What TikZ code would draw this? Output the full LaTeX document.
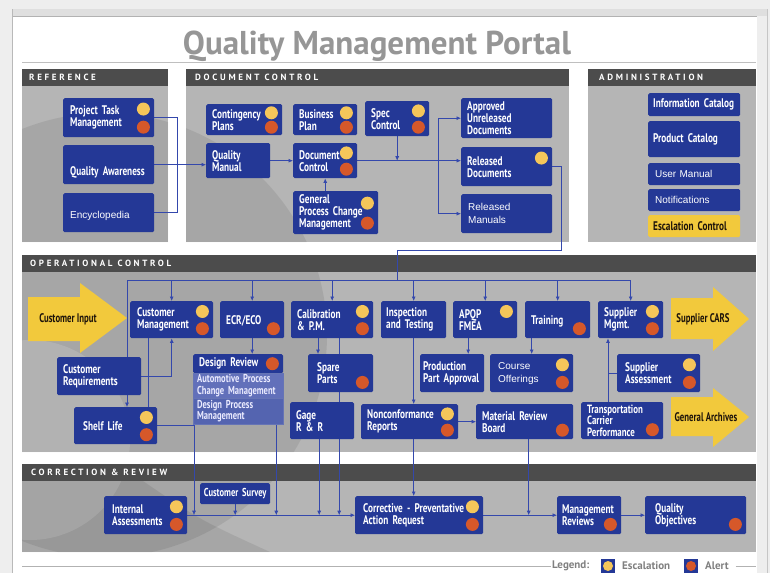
\documentclass[tikz,border=0pt]{standalone}
\usepackage{fontspec}
\setmainfont{PT Sans}
\newfontfamily\boxfont[FakeStretch=0.74]{PT Sans}
\newfontfamily\tagfont[FakeStretch=0.7]{PT Sans}
\newfontfamily\arialfont{Liberation Sans}
\newfontfamily\headfont[LetterSpace=30]{PT Sans}
\usetikzlibrary{arrows.meta,calc}

\definecolor{qblue}{RGB}{36,56,150}
\definecolor{qyellow}{RGB}{245,198,90}
\definecolor{qorange}{RGB}{214,88,42}
\definecolor{qgold}{RGB}{242,201,60}
\definecolor{panelgray}{RGB}{181,181,181}
\definecolor{headgray}{RGB}{76,76,76}
\definecolor{linkblue}{RGB}{52,72,172}
\definecolor{titlegray}{RGB}{150,150,150}
\definecolor{pagegray}{RGB}{238,238,238}
\definecolor{apcmblue}{RGB}{98,112,186}
\definecolor{dpmblue}{RGB}{84,100,176}

\pgfdeclarelayer{panels}
\pgfdeclarelayer{links}
\pgfsetlayers{panels,links,main}

\tikzset{
  qbox/.style={fill=qblue, rounded corners=1.5pt, text=white, align=left,
    anchor=north west, inner xsep=6pt, inner ysep=0pt,
    font=\boxfont\bfseries\fontsize{12.5}{12}\selectfont},
  boxsize/.code 2 args={\pgfmathsetlengthmacro\qtw{#1pt-2*\pgfkeysvalueof{/pgf/inner xsep}}%
    \pgfkeysalso{text width=\qtw, minimum height=#2pt}},
  arialtext/.style={font=\arialfont\fontsize{10}{13}\selectfont},
  subbox/.style={qbox, fill=#1, draw=white!30!qblue, line width=0.3pt,
    rounded corners=0pt, text=white!92!blue, inner xsep=4pt,
    font=\boxfont\bfseries\fontsize{11.5}{11.5}\selectfont},
  conn/.style={draw=linkblue, line width=0.7pt},
  sechead/.style={anchor=west, text=white, inner sep=0pt,
    font=\headfont\bfseries\fontsize{9}{9}\selectfont},
  arrowtext/.style={text=black!85!brown,
    font=\tagfont\bfseries\fontsize{12.5}{12}\selectfont},
  legtext/.style={anchor=west, text=gray, inner sep=1pt,
    font=\bfseries\fontsize{11}{12}\selectfont},
  legsq/.style={fill=qblue, minimum size=14pt, inner sep=0pt}
}

% escalation / alert markers, placed on the right edge of a box
\newcommand\escdot[1]{\fill[qyellow] ($(#1.north east)!0.28!(#1.south east)+(-11,0)$) circle[radius=6.5pt];}
\newcommand\alertdot[1]{\fill[qorange] ($(#1.north east)!0.74!(#1.south east)+(-11,0)$) circle[radius=6.5pt];}

\begin{document}
\begin{tikzpicture}[x=1pt, y=-1pt, >={Latex[length=4.5pt,width=4pt]}]
    \useasboundingbox (0,0) rectangle (770,573);

    \begin{pgfonlayer}{panels}
    % page frame
    \fill[pagegray] (0,0) rectangle (770,573);
    \fill[white] (12,16) rectangle (757,573);
    \fill[gray!25] (12,9) rectangle (767,16);
    \draw[gray!60] (12,16) -- (757,16);
    \draw[gray!55] (12,9) -- (12,573);
    \draw[gray!45] (767,9) -- (767,573);
    \draw[gray!50, line width=1pt] (22,62) -- (756,62);

    % section panels
    \fill[headgray] (22,69) rectangle (168,86);
    \fill[panelgray] (22,86) rectangle (168,242);
    \fill[headgray] (186,69) rectangle (569,86);
    \fill[panelgray] (186,86) rectangle (569,242);
    \fill[headgray] (588,69) rectangle (756,86);
    \fill[panelgray] (588,86) rectangle (756,242);
    \fill[headgray] (22,255) rectangle (756,272);
    \fill[panelgray] (22,272) rectangle (756,452);
    \fill[headgray] (22,464) rectangle (756,481);
    \fill[panelgray] (22,481) rectangle (756,552);

    % the swirl behind the panels
    \begin{scope}
        \clip (22,86) rectangle (168,242) (186,86) rectangle (569,242)
              (22,272) rectangle (756,452) (22,481) rectangle (756,552);
        \fill[black, opacity=0.08] (105,335) circle[radius=222pt];
        \fill[white, opacity=0.14] (30,440) circle[radius=100pt];
        \fill[black, opacity=0.08] (22,481) -- (143,481) .. controls (200,520) .. (270,552) -- (22,552) -- cycle;
    \end{scope}
    \end{pgfonlayer}

    % title and section heads
    \node[anchor=base, text=titlegray, font=\bfseries\fontsize{33}{34}\selectfont] (title) at (377,54) {Quality Management Portal};
    \node[sechead] (refhead) at (29,77.5) {REFERENCE};
    \node[sechead] (dochead) at (195,77.5) {DOCUMENT CONTROL};
    \node[sechead] (admhead) at (599,77.5) {ADMINISTRATION};
    \node[sechead] (ophead) at (30,263.5) {OPERATIONAL CONTROL};
    \node[sechead] (corhead) at (31,472.5) {CORRECTION \& REVIEW};

    % reference
    \node[qbox, inner xsep=7pt, boxsize={91}{39}] (task) at (63,98) {Project Task\\Management};
    \node[qbox, inner xsep=7pt, boxsize={91}{39}] (awareness) at (63,145) {\mbox{}\\\mbox{}\\Quality Awareness};
    \node[qbox, inner xsep=7pt, boxsize={91}{39}, arialtext] (encyc) at (63,193) {\mbox{}\\Encyclopedia};

    % document control
    \node[qbox, boxsize={76}{31}] (conting) at (206,104) {Contingency\\Plans};
    \node[qbox, boxsize={64}{31}] (business) at (293,104) {Business\\Plan};
    \node[qbox, boxsize={64}{35}] (spec) at (365,101) {Spec\\Control};
    \node[qbox, boxsize={64}{35}] (qmanual) at (206,143) {Quality\\Manual};
    \node[qbox, boxsize={64}{35}] (doccontrol) at (293,143) {Document\\Control};
    \node[qbox, boxsize={85}{43}] (gpcm) at (293,191) {General\\Process Change\\Management};
    \node[qbox, boxsize={91}{40}] (approved) at (461,98) {Approved\\Unreleased\\Documents};
    \node[qbox, boxsize={91}{39}] (released) at (461,147) {Released\\Documents};
    \node[qbox, inner xsep=7pt, boxsize={91}{39}, arialtext] (relmanuals) at (461,194) {Released\\Manuals};

    % administration
    \node[qbox, inner xsep=5pt, boxsize={92}{23}] (infocat) at (648,93) {Information Catalog};
    \node[qbox, inner xsep=5pt, boxsize={92}{36}] (prodcat) at (648,121) {Product Catalog};
    \node[qbox, inner xsep=7pt, boxsize={92}{22}, arialtext] (usermanual) at (648,163) {User Manual};
    \node[qbox, inner xsep=7pt, boxsize={92}{22}, arialtext] (notif) at (648,189) {Notifications};
    \node[qbox, inner xsep=5pt, boxsize={92}{22}, fill=qgold, text=black!85!brown] (escal) at (648,215) {Escalation Control};

    % operational control
    \fill[qgold] (28,297) -- (80,297) -- (80,283) -- (127,318) -- (80,353) -- (80,341) -- (28,341) -- cycle;
    \fill[qgold] (671,298) -- (713,298) -- (713,287) -- (749,319) -- (713,351) -- (713,339) -- (671,339) -- cycle;
    \fill[qgold] (671,397) -- (713,397) -- (713,388) -- (749,417) -- (713,447) -- (713,436) -- (671,436) -- cycle;
    \node[arrowtext] (custinput) at (68,319) {Customer Input};
    \node[arrowtext] (suppcars) at (703,319) {Supplier CARS};
    \node[arrowtext] (archives) at (706,417) {General Archives};

    \node[qbox, inner xsep=7pt, boxsize={83}{37}] (custmgmt) at (130,301) {Customer\\Management};
    \node[qbox, boxsize={64}{37}] (ecr) at (220,301) {\mbox{}\\ECR/ECO};
    \node[qbox, boxsize={82}{37}] (calib) at (291,301) {Calibration\\\& P.M.};
    \node[qbox, inner xsep=5pt, boxsize={65}{37}] (inspect) at (381,301) {Inspection\\and Testing};
    \node[qbox, boxsize={64}{37}] (apqp) at (453,301) {APQP\\FMEA};
    \node[qbox, boxsize={65}{37}] (training) at (525,301) {\mbox{}\\Training};
    \node[qbox, boxsize={65}{37}] (suppmgmt) at (598,301) {Supplier\\Mgmt.};

    \node[qbox, boxsize={84}{38}] (custreq) at (57,357) {Customer\\Requirements};
    \node[qbox, boxsize={90}{19}] (designrev) at (193,354) {Design Review};
    \node[subbox=apcmblue, boxsize={90}{25}] (apcm) at (193,373) {Automotive Process\\Change Management};
    \node[subbox=dpmblue, boxsize={90}{26}] (dpm) at (193,398) {Design Process\\Management};
    \node[qbox, inner xsep=9pt, boxsize={65}{38}] (spare) at (308,354) {Spare\\Parts};
    \node[qbox, inner xsep=3pt, boxsize={64}{38}] (ppap) at (420,354) {Production\\Part Approval};
    \node[qbox, inner xsep=8pt, boxsize={83}{38}, arialtext] (course) at (490,354) {Course\\Offerings};
    \node[qbox, inner xsep=8pt, boxsize={83}{38}] (suppassess) at (617,354) {Supplier\\Assessment};

    \node[qbox, inner xsep=9pt, boxsize={83}{37}] (shelf) at (74,407) {Shelf Life};
    \node[qbox, boxsize={64}{37}] (gage) at (290,402) {Gage\\R \& R};
    \node[qbox, boxsize={97}{35}] (noncon) at (361,404) {Nonconformance\\Reports};
    \node[qbox, boxsize={97}{35}] (mrb) at (476,404) {Material Review\\Board};
    \node[qbox, font=\boxfont\bfseries\fontsize{12}{11.5}\selectfont, boxsize={82}{37}] (transport) at (581,402) {Transportation\\Carrier\\Performance};

    % correction & review
    \node[qbox, inner xsep=8pt, boxsize={83}{38}] (internal) at (104,496) {Internal\\Assessments};
    \node[qbox, inner xsep=2pt, align=center, font=\boxfont\bfseries\fontsize{11.5}{12}\selectfont, boxsize={70}{21}] (survey) at (200,483) {Customer Survey};
    \node[qbox, inner xsep=8pt, boxsize={128}{38}] (capa) at (355,496) {Corrective - Preventative\\Action Request};
    \node[qbox, inner xsep=5pt, boxsize={64}{38}] (mgmtrev) at (557,496) {Management\\Reviews};
    \node[qbox, inner xsep=10pt, boxsize={101}{38}] (qobj) at (645,496) {Quality\\Objectives};

    % escalation and alert dots
    \foreach \b in {task,conting,business,spec,doccontrol,gpcm,custmgmt,calib,suppmgmt,
                    course,suppassess,shelf,noncon,internal,capa}
        {\escdot{\b}\alertdot{\b}}
    \foreach \b in {released,apqp}
        {\escdot{\b}}
    \foreach \b in {ecr,training,spare,mrb,transport,mgmtrev,qobj}
        {\alertdot{\b}}
    \fill[qorange] ([xshift=-11pt]designrev.east) circle[radius=6.5pt];

    % connectors
    \begin{pgfonlayer}{links}
    \draw[conn] (task.east) -- ++(23,0) |- (encyc.east);
    \draw[conn,->] (awareness.east) -- (awareness.east -| qmanual.west);
    \draw[conn,->] (qmanual.east) -- (doccontrol.west);
    \draw[conn,->] (gpcm.north -| doccontrol.south) -- (doccontrol.south);
    \draw[conn,->] (doccontrol.east) -- (doccontrol.east -| released.west);
    \draw[conn,->] (spec.south) -- (spec.south |- doccontrol.east);
    \draw[conn,<->] (approved.west) -| ([xshift=-23pt]relmanuals.west) -- (relmanuals.west);

    % feed into operational control
    \coordinate (busL) at (127,280);
    \coordinate (drop) at (397,250);
    \draw[conn] (released.east) -- ++(9,0) |- (drop) -- (drop |- busL);
    \draw[conn] (busL |- custreq.north) -- (busL) -- (suppmgmt.north |- busL);
    \foreach \b in {custmgmt,ecr,calib,inspect,apqp,training,suppmgmt}
        \draw[conn,->] (\b.north |- busL) -- (\b.north);

    \draw[conn,->] (custreq.east) -| (custmgmt.south);
    \draw[conn] ([xshift=18pt]custmgmt.south west) -- ([xshift=18pt]custmgmt.south west |- shelf.north);
    \draw[conn,->] (busL |- custreq.south) -- (busL |- shelf.north);
    \draw[conn,->] (ecr.south) -- (ecr.south |- designrev.north);
    \draw[conn,->] ([xshift=10pt]spare.north west |- calib.south) -- ([xshift=10pt]spare.north west);
    \draw[conn,->] ([xshift=-17pt]apqp.south) -- ([xshift=-17pt]apqp.south |- ppap.north);
    \draw[conn,->] (course.north |- training.south) -- (course.north);
    \draw[conn,->] (inspect.south) -- (inspect.south |- noncon.north);
    \draw[conn,->] (noncon.east) -- (mrb.west);
    \draw[conn,->] ([xshift=10pt]suppmgmt.south west |- transport.north) -- ([xshift=10pt]suppmgmt.south west);
    \draw[conn] (suppassess.west) -- ([xshift=10pt]suppmgmt.south west |- suppassess.west);

    % down to correction & review
    \draw[conn,->] (shelf.east) -| (194,0 |- internal.east);
    \draw[conn,->] (survey.south) -- (survey.south |- internal.east);
    \draw[conn,->] ([xshift=-7pt]dpm.south east) -- ([xshift=-7pt]dpm.south east |- internal.east);
    \draw[conn,->] ([xshift=-3pt]gage.south) -- ([xshift=-3pt]gage.south |- internal.east);
    \draw[conn,->] ([xshift=7pt]calib.south) -- ([xshift=7pt]calib.south |- internal.east);
    \draw[conn,->] (inspect.south |- noncon.south) -- (inspect.south |- capa.north);
    \draw[conn,->] ([xshift=4pt]mrb.south) -- ([xshift=4pt]mrb.south |- capa.east);
    \draw[conn,->] (internal.east) -- (capa.west);
    \draw[conn,->] (capa.east) -- (mgmtrev.west);
    \draw[conn,->] (mgmtrev.east) -- (qobj.west);
    \end{pgfonlayer}

    % legend
    \coordinate (legR) at (756,566);
    \node[legtext] (legend) at (551,566) {Legend:};
    \node[legsq] (legesc) at (608,566) {};
    \node[legtext] (escword) at (621,566) {Escalation};
    \node[legsq] (legalert) at (691,566) {};
    \node[legtext] (alertword) at (704,566) {Alert};
    \fill[qyellow] (legesc) circle[radius=5pt];
    \fill[qorange] (legalert) circle[radius=5pt];
    \draw[gray!60, line width=0.8pt] (22,566) -- (legend.west);
    \draw[gray!60, line width=0.8pt] ([xshift=6pt]alertword.east) -- (legR);

\end{tikzpicture}
\end{document}
